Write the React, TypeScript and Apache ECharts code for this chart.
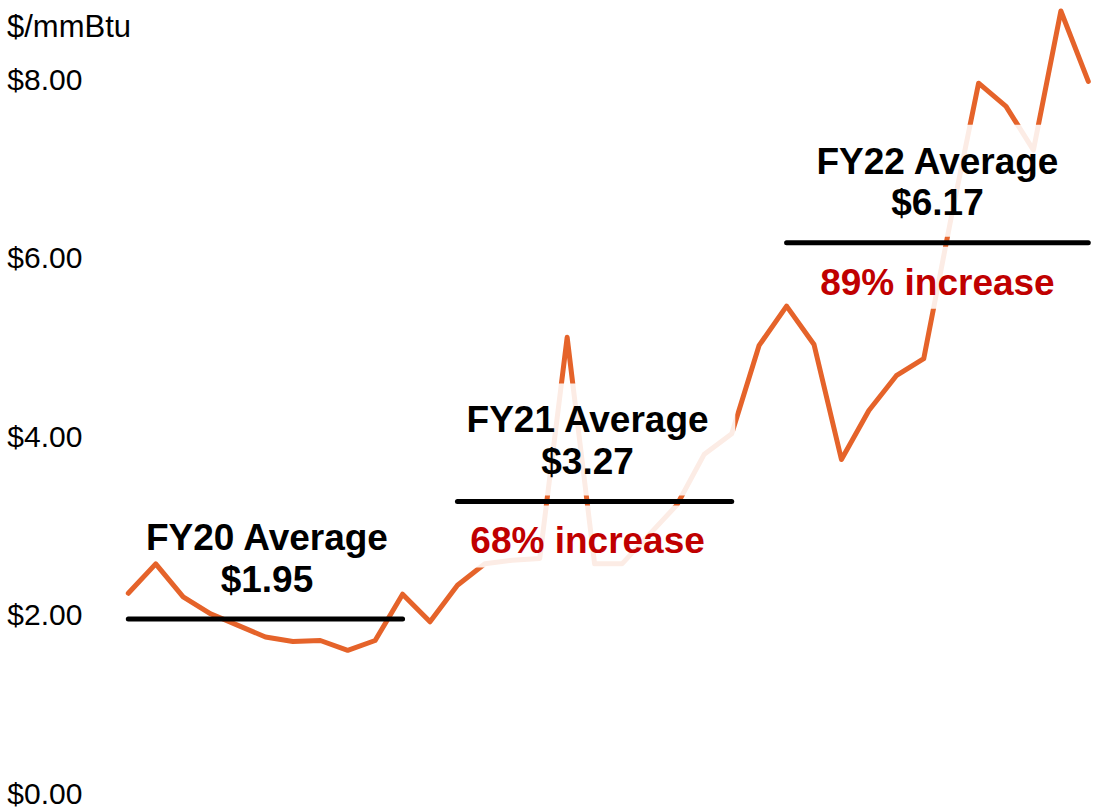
import { useEffect, useRef } from 'react';
import * as echarts from 'echarts';

// ---------- data ----------
const months = [
  'Oct-19', 'Nov-19', 'Dec-19', 'Jan-20', 'Feb-20', 'Mar-20', 'Apr-20', 'May-20', 'Jun-20', 'Jul-20', 'Aug-20', 'Sep-20',
  'Oct-20', 'Nov-20', 'Dec-20', 'Jan-21', 'Feb-21', 'Mar-21', 'Apr-21', 'May-21', 'Jun-21', 'Jul-21', 'Aug-21', 'Sep-21',
  'Oct-21', 'Nov-21', 'Dec-21', 'Jan-22', 'Feb-22', 'Mar-22', 'Apr-22', 'May-22', 'Jun-22', 'Jul-22', 'Aug-22', 'Sep-22',
];

const prices = [
  2.24, 2.57, 2.2, 2.01, 1.88, 1.75, 1.7, 1.71, 1.6, 1.71, 2.23, 1.92,
  2.33, 2.57, 2.61, 2.63, 5.11, 2.57, 2.57, 2.9, 3.23, 3.8, 4.03, 5.02,
  5.46, 5.03, 3.74, 4.29, 4.68, 4.87, 6.45, 7.96, 7.7, 7.21, 8.77, 7.98,
];

const fyTitles = ['FY20 Average', 'FY21 Average', 'FY22 Average'];
const fyAverages = [1.95, 3.27, 6.17];
const fyAverageLabels = ['$1.95', '$3.27', '$6.17'];
const fyIncreaseLabels = ['', '68% increase', '89% increase'];
const avgStartIdx = [0, 12, 24];
const avgEndIdx = [10, 22, 35];

const yTicks = [0, 2, 4, 6, 8];
const yTickLabels = ['$0.00', '$2.00', '$4.00', '$6.00', '$8.00'];
const unitLabel = '$/mmBtu';

// ---------- style / layout ----------
const FONT = '"Liberation Sans", Arial, Helvetica, sans-serif';
const ORANGE = '#E5632A';
const RED = '#C00000';
const FADE = 'rgba(255,255,255,0.88)';
const LABEL_SIZE = 37;
const labelDx = [1.5, -7, 0];
const hasFadeBox = [false, true, true];

export default function App() {
  const ref = useRef<HTMLDivElement>(null);

  useEffect(() => {
    const chart = echarts.init(ref.current!, null, { renderer: 'svg' });
    const gridLeft = 128.3;
    chart.setOption({
      animation: false,
      backgroundColor: '#ffffff',
      grid: { left: gridLeft, right: 5.7, top: 8.3, bottom: 13, containLabel: false },
      xAxis: {
        type: 'category',
        data: months,
        boundaryGap: false,
        show: false,
      },
      yAxis: {
        type: 'value',
        min: 0,
        max: 8.8,
        interval: 2,
        axisLine: { show: false },
        axisTick: { show: false },
        splitLine: { show: false },
        axisLabel: {
          align: 'left',
          margin: gridLeft - 7.3,
          fontSize: 30,
          color: '#000',
          fontFamily: FONT,
          formatter: (v: number) => {
            const i = yTicks.indexOf(v);
            return i >= 0 ? yTickLabels[i] : '';
          },
        },
      },
      series: [
        {
          type: 'line',
          data: prices,
          symbol: 'none',
          clip: false,
          z: 2,
          lineStyle: { color: ORANGE, width: 5, cap: 'round', join: 'round' },
        },
      ],
    });

    const px = (i: number, v: number) =>
      chart.convertToPixel({ gridIndex: 0 }, [i, v]) as number[];

    const ctx = document.createElement('canvas').getContext('2d')!;
    ctx.font = `bold ${LABEL_SIZE}px ${FONT}`;
    const tw = (s: string) => ctx.measureText(s).width;

    const elements: any[] = [
      {
        type: 'text',
        x: 7,
        y: 26,
        z: 10,
        style: {
          text: unitLabel,
          fill: '#000',
          fontSize: 31,
          fontFamily: FONT,
          align: 'left',
          verticalAlign: 'middle',
        },
      },
    ];

    const txt = (text: string, x: number, ty: number, color: string) => ({
      type: 'text',
      x,
      y: ty,
      z: 6,
      style: {
        text,
        fill: color,
        fontSize: LABEL_SIZE,
        fontWeight: 'bold',
        fontFamily: FONT,
        align: 'center',
        verticalAlign: 'middle',
      },
    });

    fyTitles.forEach((title, k) => {
      const [x1, y] = px(avgStartIdx[k], fyAverages[k]);
      const [x2] = px(avgEndIdx[k], fyAverages[k]);
      const cx = (x1 + x2) / 2 + labelDx[k];
      const inc = fyIncreaseLabels[k];

      if (hasFadeBox[k]) {
        const wT = Math.max(tw(title), tw(fyAverageLabels[k])) + 52;
        elements.push({
          type: 'rect',
          z: 3,
          shape: { x: cx - wT / 2, y: y - 118, width: wT, height: 112 },
          style: { fill: FADE },
        });
        if (inc) {
          const wI = tw(inc) + 52;
          elements.push({
            type: 'rect',
            z: 3,
            shape: { x: cx - wI / 2, y: y + 4, width: wI, height: 62 },
            style: { fill: FADE },
          });
        }
      }

      elements.push({
        type: 'line',
        z: 5,
        shape: { x1, y1: y, x2, y2: y },
        style: { stroke: '#000', lineWidth: 5, lineCap: 'round' },
      });

      elements.push(txt(title, cx, y - 81.5, '#000'));
      elements.push(txt(fyAverageLabels[k], cx, y - 40, '#000'));
      if (inc) elements.push(txt(inc, cx, y + 39.5, RED));
    });

    chart.setOption({ graphic: { elements } });

    return () => chart.dispose();
  }, []);

  return (
    <div
      ref={ref}
      style={{ position: 'fixed', left: 0, top: 0, width: 1094, height: 808, background: '#fff' }}
    />
  );
}
